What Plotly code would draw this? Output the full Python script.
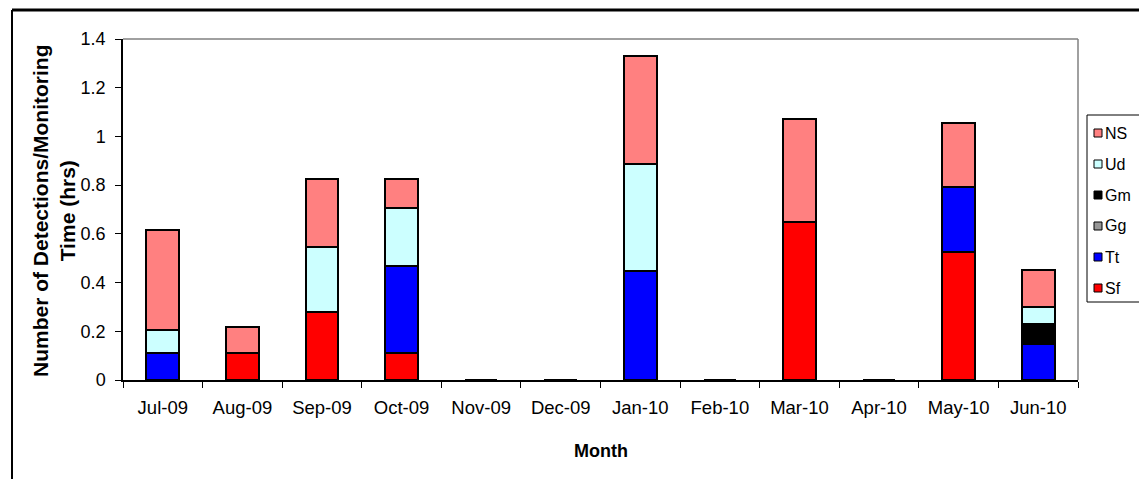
import plotly.graph_objects as go

months = ["Jul-09", "Aug-09", "Sep-09", "Oct-09", "Nov-09", "Dec-09",
          "Jan-10", "Feb-10", "Mar-10", "Apr-10", "May-10", "Jun-10"]
sf = [0, 0.109, 0.278, 0.112, 0, 0, 0, 0, 0.648, 0, 0.525, 0]
tt = [0.109, 0, 0, 0.358, 0, 0, 0.447, 0, 0, 0, 0.266, 0.149]
gg = [0, 0, 0, 0, 0, 0, 0, 0, 0, 0, 0, 0]
gm = [0, 0, 0, 0, 0, 0, 0, 0, 0, 0, 0, 0.079]
ud = [0.095, 0, 0.269, 0.235, 0, 0, 0.440, 0, 0, 0, 0, 0.071]
ns = [0.41, 0.108, 0.279, 0.121, 0, 0, 0.445, 0, 0.425, 0, 0.263, 0.152]

series_names = ["Sf", "Tt", "Gg", "Gm", "Ud", "NS"]
series_vals = [sf, tt, gg, gm, ud, ns]
series_colors = ["#FF0000", "#0000FF", "#969696", "#000000", "#CCFFFF", "#FF8080"]

W, H = 1139, 479
L, R, T, B = 123, 1078, 39, 380


def px_x(px):
    return (px - L) / (R - L)


def px_y(py):
    return (B - py) / (B - T)


FONT = "Liberation Sans, Arial, sans-serif"

fig = go.Figure()
for name, vals, color in zip(series_names, series_vals, series_colors):
    fig.add_bar(x=months, y=vals, name=name,
                marker=dict(color=color, line=dict(color="black", width=2)))

shapes = []
annotations = []

# outer chart frame
shapes.append(dict(type="line", xref="paper", yref="paper",
                   x0=px_x(12), x1=px_x(1160), y0=px_y(10), y1=px_y(10),
                   line=dict(color="black", width=3)))
shapes.append(dict(type="line", xref="paper", yref="paper",
                   x0=px_x(12), x1=px_x(12), y0=px_y(10), y1=px_y(500),
                   line=dict(color="black", width=2)))
# plot-area border (top and right)
shapes.append(dict(type="line", xref="paper", yref="paper",
                   x0=0, x1=1, y0=1, y1=1, line=dict(color="#808080", width=1.5)))
shapes.append(dict(type="line", xref="paper", yref="paper",
                   x0=1, x1=1, y0=0, y1=1, line=dict(color="#808080", width=1.5)))

# legend box
shapes.append(dict(type="rect", xref="paper", yref="paper",
                   x0=px_x(1087), x1=px_x(1170), y0=px_y(115), y1=px_y(302),
                   line=dict(color="black", width=1), fillcolor="white"))
for i, (name, color) in enumerate(zip(series_names[::-1], series_colors[::-1])):
    cy = 133 + i * 31
    shapes.append(dict(type="rect", xref="paper", yref="paper",
                       x0=px_x(1094), x1=px_x(1102), y0=px_y(cy - 4), y1=px_y(cy + 4),
                       line=dict(color="black", width=1), fillcolor=color))
    annotations.append(dict(text=name, xref="paper", yref="paper",
                            x=px_x(1103), y=px_y(cy), xanchor="left", yanchor="middle",
                            showarrow=False, font=dict(family=FONT, size=16, color="black")))

# axis titles
annotations.append(dict(text="<b>Number of Detections/Monitoring<br>Time (hrs)</b>",
                        xref="paper", yref="paper", x=px_x(54), y=px_y(211),
                        xanchor="center", yanchor="middle", textangle=-90, showarrow=False,
                        font=dict(family=FONT, size=21, color="black")))
annotations.append(dict(text="<b>Month</b>", xref="paper", yref="paper",
                        x=px_x(601), y=px_y(451), xanchor="center", yanchor="middle",
                        showarrow=False, font=dict(family=FONT, size=18, color="black")))

fig.update_layout(
    width=W, height=H, autosize=False,
    margin=dict(l=L, r=W - R, t=T, b=H - B, autoexpand=False),
    barmode="stack", bargap=0.59,
    showlegend=False,
    plot_bgcolor="white", paper_bgcolor="white",
    shapes=shapes, annotations=annotations,
    xaxis=dict(type="category", range=[-0.5, 11.5], tickson="boundaries",
               ticks="outside", ticklen=6, tickcolor="black", tickwidth=1,
               showline=True, linecolor="black", linewidth=1.5, showgrid=False,
               ticklabelstandoff=10,
               tickfont=dict(family=FONT, size=18.5, color="black")),
    yaxis=dict(range=[0, 1.4], dtick=0.2, tick0=0,
               ticks="outside", ticklen=6, tickcolor="black", tickwidth=1,
               showline=True, linecolor="black", linewidth=1.5, showgrid=False,
               zeroline=False, ticklabelstandoff=6,
               tickfont=dict(family=FONT, size=18, color="black")),
)

fig.write_html("out.html",
               config={"displayModeBar": False},
               post_script="document.body.style.margin='0';document.body.style.overflow='hidden';")
